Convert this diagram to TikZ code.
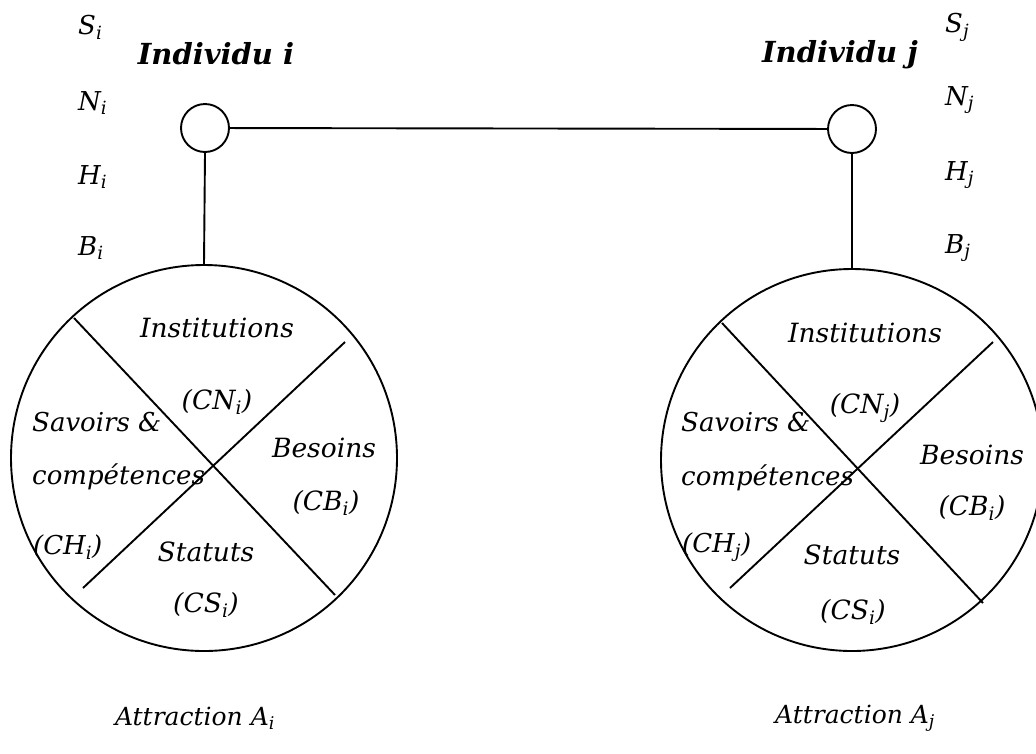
\documentclass[tikz,border=0pt]{standalone}
\usepackage{fontspec}
\setmainfont{DejaVu Serif}
\begin{document}
\begin{tikzpicture}[x=1pt,y=-1pt,
  txt/.style={font=\fontsize{26.5}{30}\selectfont\itshape, inner sep=0pt},
  lbl/.style={font=\fontsize{26}{30}\selectfont\itshape, inner sep=0pt, anchor=west},
  side/.style={font=\fontsize{26}{30}\selectfont\itshape, inner sep=0pt, anchor=west},
  ttl/.style={font=\fontsize{29}{34}\selectfont\bfseries\itshape, inner sep=0pt},
  att/.style={font=\fontsize{25}{30}\selectfont\itshape, inner sep=0pt},
  small/.style={circle, draw, line width=1.9pt, minimum size=48pt, inner sep=0pt},
  big/.style={circle, draw, line width=1.9pt, inner sep=0pt},
  ln/.style={line width=1.9pt}]
\useasboundingbox (0,0) rectangle (1036,753);
% small circles
\node[small] (ci) at (205,128) {};
\node[small] (cj) at (852,129) {};
\draw[ln] (ci) -- (cj);
% big circles
\node[big, minimum size=386pt] (Bi) at (204,458) {};
\node[big, minimum size=382pt] (Bj) at (852,460) {};
\draw[ln] (ci.south) -- (Bi.north);
\draw[ln] (cj.south) -- (Bj.north);
% crosses
\coordinate (i1) at (74,318); \coordinate (i2) at (335,595);
\coordinate (i3) at (345,342); \coordinate (i4) at (83,588);
\draw[ln] (i1) -- (i2); \draw[ln] (i3) -- (i4);
\coordinate (j1) at (722,323); \coordinate (j2) at (983,603);
\coordinate (j3) at (993,342); \coordinate (j4) at (730,588);
\draw[ln] (j1) -- (j2); \draw[ln] (j3) -- (j4);
% side labels
\node[side] (si) at (78,27) {S\textsubscript{i}};
\node[side] (ni) at (78,103) {N\textsubscript{i}};
\node[side] (hi) at (78,177) {H\textsubscript{i}};
\node[side] (bi) at (78,248) {B\textsubscript{i}};
\node[ttl] (ti) at (216,54) {Individu i};
\node[side] (sj) at (945,27) {S\textsubscript{j}};
\node[side] (nj) at (945,100) {N\textsubscript{j}};
\node[side] (hj) at (945,175) {H\textsubscript{j}};
\node[side] (bj) at (945,248) {B\textsubscript{j}};
\node[ttl] (tj) at (840,55) {Individu j};
% left circle texts
\node[txt] (a1) at (217,328) {Institutions};
\node[txt] (a2) at (217,402) {(CN\textsubscript{i})};
\node[lbl] (a3) at (32,422) {Savoirs \&};
\node[lbl] (a4) at (32,477) {compétences};
\node[lbl] (a5) at (33,547) {(CH\textsubscript{i})};
\node[txt] (a6) at (324,448) {Besoins};
\node[txt] (a7) at (326,503) {(CB\textsubscript{i})};
\node[txt] (a8) at (206,552) {Statuts};
\node[txt] (a9) at (206,605) {(CS\textsubscript{i})};
% right circle texts
\node[txt] (b1) at (865,333) {Institutions};
\node[txt] (b2) at (865,408) {(CN\textsubscript{j})};
\node[lbl] (b3) at (681,422) {Savoirs \&};
\node[lbl] (b4) at (681,478) {compétences};
\node[lbl] (b5) at (682,547) {(CH\textsubscript{j})};
\node[txt] (b6) at (972,455) {Besoins};
\node[txt] (b7) at (972,508) {(CB\textsubscript{i})};
\node[txt] (b8) at (852,555) {Statuts};
\node[txt] (b9) at (853,612) {(CS\textsubscript{i})};
% attractions
\node[att] (ai) at (195,718) {Attraction A\textsubscript{i}};
\node[att] (aj) at (855,718) {Attraction A\textsubscript{j}};
\end{tikzpicture}
\end{document}
